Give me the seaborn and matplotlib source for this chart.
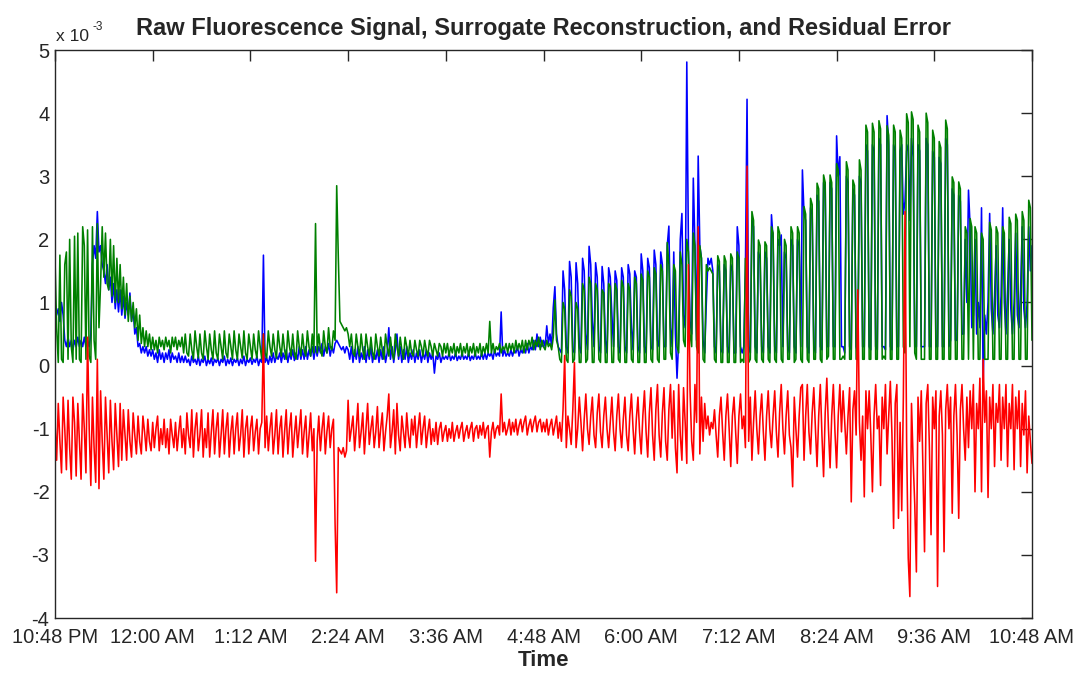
import numpy as np
import pandas as pd
import matplotlib
matplotlib.use('Agg')
import matplotlib.pyplot as plt
import seaborn as sns

# one sample every 1.2 minutes starting 10:48 PM, values in units of 1e-3
step_min = 1.2
tick_labels = ['10:48 PM', '12:00 AM', '1:12 AM', '2:24 AM', '3:36 AM', '4:48 AM',
               '6:00 AM', '7:12 AM', '8:24 AM', '9:36 AM', '10:48 AM']

# raw fluorescence (blue)
raw_signal = [
    1.0, 0.8, 0.9, 0.7, 1.0, 0.8, 0.4, 0.3, 0.45, 0.3, 0.4, 0.25, 0.4, 0.3, 0.45, 0.3, 0.4, 0.3, 0.45, 0.3,
    0.4, 0.3, 0.5, 1.6, 1.9, 1.7, 2.44, 1.8, 1.9, 1.6, 1.5, 1.3, 1.6, 1.2, 1.4, 1.0, 1.3, 0.9, 1.2, 0.85,
    1.2, 0.8, 1.1, 0.75, 1.0, 0.8, 1.15, 0.7, 0.9, 0.5, 0.6, 0.3, 0.35, 0.2, 0.3, 0.2, 0.3, 0.15, 0.25, 0.15,
    0.25, 0.1, 0.2, 0.05, 0.25, 0.1, 0.2, 0.05, 0.2, 0.1, 0.25, 0.05, 0.2, 0.1, 0.15, 0.05, 0.2, 0.05, 0.15, 0.05,
    0.15, 0.05, 0.1, 0.0, 0.15, 0.05, 0.1, 0.02, 0.15, 0.0, 0.1, 0.05, 0.15, 0.0, 0.1, 0.03, 0.12, 0.0, 0.1, 0.05,
    0.12, 0.0, 0.1, 0.05, 0.15, 0.0, 0.1, 0.03, 0.12, 0.0, 0.1, 0.05, 0.12, 0.0, 0.1, 0.03, 0.15, 0.0, 0.1, 0.05,
    0.12, 0.02, 0.1, 0.05, 0.15, 0.0, 0.1, 0.05, 1.75, 0.05, 0.12, 0.02, 0.15, 0.05, 0.2, 0.05, 0.15, 0.1, 0.2, 0.05,
    0.2, 0.1, 0.25, 0.05, 0.2, 0.1, 0.25, 0.08, 0.2, 0.1, 0.3, 0.1, 0.25, 0.1, 0.3, 0.1, 0.25, 0.15, 0.3, 0.1,
    0.3, 0.15, 0.3, 0.2, 0.35, 0.15, 0.3, 0.2, 0.35, 0.15, 0.3, 0.2, 0.35, 0.4, 0.35, 0.3, 0.25, 0.3, 0.2, 0.3,
    0.25, 0.1, 0.3, 0.05, 0.25, 0.1, 0.3, 0.05, 0.2, 0.1, 0.3, 0.05, 0.25, 0.1, 0.3, 0.05, 0.2, 0.1, 0.25, 0.05,
    0.25, 0.1, 0.3, 0.05, 0.2, 0.6, 0.1, 0.3, 0.05, 0.25, 0.5, 0.1, 0.3, 0.05, 0.25, 0.1, 0.3, 0.05, 0.2, 0.1,
    0.25, 0.05, 0.2, 0.1, 0.25, 0.05, 0.2, 0.1, 0.25, 0.05, 0.2, 0.1, 0.2, -0.12, 0.15, 0.1, 0.2, 0.05, 0.15, 0.1,
    0.15, 0.1, 0.2, 0.08, 0.15, 0.1, 0.2, 0.08, 0.15, 0.1, 0.2, 0.1, 0.15, 0.1, 0.2, 0.08, 0.15, 0.1, 0.2, 0.1,
    0.15, 0.1, 0.2, 0.1, 0.2, 0.1, 0.2, 0.15, 0.2, 0.1, 0.25, 0.15, 0.2, 0.15, 0.85, 0.15, 0.25, 0.15, 0.2, 0.15,
    0.25, 0.15, 0.25, 0.2, 0.3, 0.15, 0.25, 0.2, 0.3, 0.2, 0.35, 0.2, 0.3, 0.25, 0.4, 0.25, 0.5, 0.3, 0.45, 0.3,
    0.4, 0.3, 0.63, 0.35, 0.5, 0.3, 0.92, 1.25, 0.5, 0.3, 0.25, 0.2, 1.5, 1.2, 0.3, 0.2, 1.65, 1.4, 0.25, 0.2,
    1.63, 1.3, 0.3, 0.2, 1.7, 1.5, 0.5, 0.25, 1.89, 1.6, 0.7, 0.3, 1.63, 1.4, 0.3, 0.2, 1.57, 1.3, 0.4, 0.2,
    1.55, 1.4, 0.8, 0.3, 1.5, 1.35, 0.3, 0.2, 1.55, 1.4, 0.3, 0.2, 1.6, 1.45, 0.6, 0.25, 1.5, 1.4, 0.3, 0.2,
    1.77, 1.5, 0.3, 0.2, 1.7, 1.55, 0.3, 0.25, 1.83, 1.6, 0.4, 0.3, 1.8, 1.6, 0.3, 0.3, 1.9, 2.21, 0.6, 0.3,
    1.8, 0.5, -0.2, 0.4, 2.0, 2.41, 0.8, 0.6, 4.81, 1.9, 0.7, 0.5, 2.97, 1.9, 0.4, 3.32, 1.9, 1.7, 0.4, 0.2,
    1.0, 1.7, 1.6, 1.7, 1.5, 0.3, 0.2, 1.6, 1.5, 0.25, 0.2, 1.6, 1.5, 0.3, 0.2, 1.6, 1.5, 0.2, 0.2, 2.2,
    1.9, 0.3, 0.2, 0.3, 1.5, 4.22, 0.3, 0.2, 2.3, 2.2, 0.3, 0.2, 1.8, 1.7, 0.3, 0.2, 1.8, 1.7, 0.3, 0.2,
    2.39, 2.0, 0.3, 0.2, 2.0, 1.9, 2.07, 0.3, 1.8, 1.7, 0.3, 0.2, 2.0, 1.9, 0.3, 0.2, 2.0, 1.9, 0.3, 3.1,
    2.4, 2.3, 0.3, 0.2, 2.5, 2.4, 0.3, 0.2, 2.7, 2.6, 0.3, 0.25, 2.9, 2.8, 0.3, 0.3, 2.9, 2.8, 0.3, 0.3,
    3.64, 3.0, 3.31, 0.3, 0.3, 0.2, 3.0, 2.9, 0.3, 0.25, 2.8, 2.7, 0.3, 0.2, 3.0, 2.9, 0.3, 0.3, 3.5, 3.4,
    0.3, 0.25, 3.5, 3.4, 0.3, 0.25, 3.6, 3.5, 0.3, 0.3, 0.25, 3.96, 3.5, 0.3, 0.25, 3.5, 3.4, 0.3, 0.3, 3.4,
    3.5, 2.4, 2.6, 3.4, 3.5, 2.3, 3.6, 3.3, 0.3, 0.3, 3.5, 3.4, 0.3, 0.3, 0.3, 3.6, 3.5, 0.3, 0.3, 3.4,
    3.3, 0.3, 0.3, 3.3, 3.2, 0.3, 0.3, 3.6, 3.5, 0.3, 0.4, 2.8, 2.7, 0.4, 0.4, 2.7, 2.6, 0.5, 0.5, 2.0,
    1.0, 2.78, 2.2, 0.6, 0.8, 2.0, 0.5, 1.0, 0.6, 2.5, -0.27, 0.8, 0.5, 1.0, 2.41, 0.9, 0.5, 1.1, 1.9, 0.8,
    0.6, 1.1, 2.5, 1.0, 0.5, 1.2, 2.0, 0.9, 0.5, 1.0, 2.1, 0.8, 0.6, 1.2, 2.2, 0.9, 0.6, 1.0, 2.2, 1.5,
    1.9,
]

# surrogate reconstruction (green)
surrogate = [
    1.7, 0.6, 0.05, 1.75, 0.1, 0.05, 1.6, 1.8, 0.1, 2.0, 0.3, 0.05, 2.05, 0.1, 2.1, 0.1, 0.05, 2.2, 1.9, 0.1,
    2.15, 0.15, 0.05, 2.2, 0.4, 0.1, 2.25, 0.6, 1.3, 2.2, 1.4, 2.1, 1.3, 1.2, 2.0, 1.1, 1.9, 1.0, 1.7, 1.0,
    1.6, 0.9, 1.4, 0.8, 1.3, 0.7, 1.1, 0.7, 1.0, 0.6, 0.9, 0.4, 0.8, 0.35, 0.6, 0.3, 0.55, 0.3, 0.5, 0.25,
    0.45, 0.25, 0.4, 0.2, 0.45, 0.3, 0.4, 0.25, 0.45, 0.3, 0.4, 0.2, 0.45, 0.3, 0.45, 0.25, 0.4, 0.3, 0.45, 0.2,
    0.5, 0.2, 0.15, 0.5, 0.25, 0.1, 0.55, 0.3, 0.12, 0.5, 0.2, 0.1, 0.55, 0.3, 0.1, 0.5, 0.25, 0.1, 0.55, 0.2,
    0.1, 0.5, 0.3, 0.1, 0.55, 0.2, 0.12, 0.5, 0.3, 0.1, 0.55, 0.25, 0.1, 0.5, 0.3, 0.12, 0.55, 0.2, 0.1, 0.5,
    0.3, 0.1, 0.5, 0.25, 0.12, 0.55, 0.3, 0.1, 0.5, 0.2, 0.12, 0.55, 0.3, 0.15, 0.5, 0.25, 0.12, 0.55, 0.3, 0.15,
    0.5, 0.25, 0.1, 0.55, 0.3, 0.15, 0.5, 0.2, 0.1, 0.55, 0.3, 0.15, 0.5, 0.25, 0.15, 0.55, 0.3, 0.15, 0.5, 0.2,
    2.25, 0.2, 0.5, 0.25, 0.15, 0.55, 0.3, 0.2, 0.6, 0.3, 0.25, 0.55, 0.4, 2.85, 1.7, 0.7, 0.65, 0.6, 0.55, 0.6,
    0.5, 0.3, 0.5, 0.2, 0.15, 0.5, 0.3, 0.15, 0.5, 0.25, 0.1, 0.5, 0.3, 0.15, 0.45, 0.2, 0.1, 0.5, 0.3, 0.15,
    0.45, 0.25, 0.1, 0.5, 0.3, 0.15, 0.45, 0.2, 0.1, 0.5, 0.3, 0.15, 0.45, 0.25, 0.1, 0.45, 0.3, 0.15, 0.4, 0.2,
    0.15, 0.4, 0.25, 0.15, 0.4, 0.3, 0.15, 0.4, 0.25, 0.15, 0.4, 0.3, 0.15, 0.35, 0.25, 0.15, 0.35, 0.3, 0.15, 0.35,
    0.2, 0.35, 0.15, 0.3, 0.2, 0.35, 0.15, 0.3, 0.2, 0.35, 0.15, 0.3, 0.2, 0.35, 0.15, 0.3, 0.2, 0.35, 0.15, 0.3,
    0.2, 0.35, 0.15, 0.3, 0.2, 0.35, 0.2, 0.7, 0.2, 0.35, 0.2, 0.3, 0.25, 0.35, 0.2, 0.3, 0.25, 0.35, 0.2, 0.35,
    0.25, 0.35, 0.2, 0.4, 0.25, 0.35, 0.25, 0.4, 0.2, 0.4, 0.25, 0.4, 0.3, 0.45, 0.25, 0.4, 0.3, 0.45, 0.25, 0.4,
    0.3, 0.25, 0.4, 0.3, 0.35, 0.25, 0.45, 1.04, 0.4, 0.3, 0.1, 0.05, 1.0, 0.9, 0.1, 0.05, 1.2, 1.1, 0.05, 0.1,
    1.0, 0.9, 0.05, 0.05, 1.3, 1.2, 0.05, 0.1, 1.4, 1.3, 0.05, 0.05, 1.3, 1.2, 0.1, 0.05, 1.2, 1.15, 0.05, 0.05,
    1.3, 1.25, 0.05, 0.05, 1.3, 1.2, 0.1, 0.05, 1.35, 1.25, 0.05, 0.05, 1.3, 1.2, 0.1, 0.05, 1.4, 1.3, 0.05, 0.05,
    1.45, 1.35, 0.05, 0.05, 1.5, 1.4, 0.1, 0.05, 1.55, 1.45, 0.1, 0.05, 1.6, 1.5, 0.1, 0.1, 1.95, 1.6, 0.2, 0.1,
    1.6, 1.5, 0.3, 0.2, 1.8, 1.6, 0.4, 0.3, 2.0, 1.8, 0.5, 0.3, 2.1, 1.9, 0.3, 0.2, 1.9, 1.7, 0.1, 0.05,
    1.6, 1.5, 1.55, 1.5, 1.45, 0.1, 0.05, 1.74, 1.65, 0.05, 0.05, 1.74, 1.65, 0.05, 0.05, 1.77, 1.7, 0.05, 0.05, 1.8,
    1.7, 0.05, 0.1, 0.05, 1.7, 1.6, 0.05, 0.1, 2.44, 2.3, 0.1, 0.05, 1.99, 1.9, 0.1, 0.05, 1.96, 1.9, 0.1, 0.05,
    2.2, 2.1, 0.1, 0.05, 2.2, 2.1, 0.1, 0.05, 2.0, 1.9, 0.1, 0.1, 2.2, 2.1, 0.05, 0.1, 2.2, 2.1, 0.1, 0.05,
    2.52, 2.4, 0.1, 0.05, 2.65, 2.55, 0.1, 0.1, 2.89, 2.8, 0.1, 0.05, 3.02, 2.9, 0.1, 0.15, 3.02, 2.9, 0.1, 0.1,
    3.2, 3.1, 0.1, 0.1, 0.15, 0.1, 3.23, 3.1, 0.1, 0.1, 2.94, 2.85, 0.1, 0.1, 3.26, 3.1, 0.1, 0.1, 3.81, 3.7,
    0.1, 0.1, 3.84, 3.7, 0.1, 0.1, 3.88, 3.75, 0.1, 0.15, 0.1, 3.8, 3.65, 0.1, 0.1, 3.81, 3.7, 0.1, 0.1, 3.73,
    3.6, 0.3, 0.2, 3.99, 3.85, 0.3, 4.02, 3.9, 0.2, 0.1, 3.81, 3.7, 0.1, 0.1, 0.1, 4.0, 3.85, 0.1, 0.1, 3.73,
    3.6, 0.1, 0.1, 3.55, 3.45, 0.1, 0.1, 3.89, 3.75, 0.1, 0.1, 2.99, 2.9, 0.1, 0.1, 2.91, 2.8, 0.1, 0.1, 2.2,
    2.1, 0.1, 2.33, 2.2, 0.1, 2.2, 2.1, 0.1, 0.1, 2.1, 2.0, 0.1, 0.1, 0.1, 2.27, 2.15, 0.1, 0.1, 2.2, 2.1,
    0.1, 0.1, 2.2, 2.1, 0.1, 0.1, 2.35, 2.25, 0.1, 0.1, 2.4, 2.3, 0.1, 0.1, 2.44, 2.3, 0.1, 0.1, 2.62, 2.5,
    0.4,
]

# residual error (red)
residual = [
    -0.9, -1.5, -0.6, -1.2, -1.7, -0.5, -1.0, -1.65, -0.55, -1.3, -1.8, -0.5, -0.9, -1.75, -0.6, -1.2, -1.8, -0.45, -1.0, -1.7,
    0.45, -1.0, -1.9, -0.5, -1.3, -1.85, 0.1, -1.95, -0.4, -1.2, -1.8, -0.5, -1.1, -1.7, -0.55, -1.2, -1.65, -0.6, -1.1, -1.6,
    -0.6, -1.5, -0.7, -1.1, -1.5, -0.7, -1.2, -1.45, -0.75, -1.1, -1.4, -0.8, -1.2, -1.4, -0.8, -1.05, -1.35, -0.85, -1.2, -1.35,
    -0.9, -1.3, -1.0, -0.8, -1.35, -1.0, -1.25, -0.85, -1.3, -1.0, -1.4, -0.85, -1.1, -1.3, -0.9, -1.35, -1.05, -0.8, -1.3, -1.0,
    -1.4, -0.75, -1.1, -1.3, -0.7, -1.45, -1.0, -0.75, -1.35, -1.1, -0.7, -1.45, -1.0, -1.3, -0.75, -1.45, -1.05, -0.7, -1.4, -1.0,
    -0.75, -1.45, -1.1, -0.7, -1.4, -1.0, -0.75, -1.45, -1.05, -0.8, -1.4, -1.0, -0.75, -1.35, -1.1, -0.7, -1.45, -1.0, -0.8, -1.4,
    -1.0, -0.8, -1.35, -1.05, -0.85, -1.4, -1.0, -0.9, 0.5, -1.3, -0.8, -1.35, -1.0, -0.75, -1.4, -1.1, -0.7, -1.4, -1.0, -0.8,
    -1.45, -1.05, -0.7, -1.4, -1.0, -0.75, -1.45, -1.1, -0.8, -1.3, -1.0, -0.7, -1.4, -1.05, -0.8, -1.45, -1.1, -0.75, -1.35, -1.0,
    -3.1, -1.2, -0.8, -1.35, -1.0, -0.75, -1.4, -1.05, -0.8, -1.3, -1.0, -0.85, -2.5, -3.6, -1.3, -1.35, -1.4, -1.3, -1.45, -1.35,
    -0.55, -1.2, -1.0, -0.8, -1.35, -1.0, -0.6, -1.3, -1.05, -0.75, -1.4, -1.0, -0.6, -1.25, -1.0, -0.8, -1.3, -1.05, -0.65, -1.3,
    -1.0, -0.75, -1.35, -1.05, -0.8, -0.45, -1.3, -1.05, -0.7, -1.4, -0.6, -1.1, -1.35, -0.8, -1.05, -1.3, -0.75, -1.1, -1.3, -0.85,
    -1.1, -0.8, -1.3, -1.0, -0.75, -1.25, -1.0, -0.8, -1.3, -1.05, -0.85, -1.25, -1.0, -1.2, -0.9, -1.25, -1.0, -0.9, -1.2, -1.05,
    -0.95, -1.2, -1.0, -1.15, -0.9, -1.2, -1.05, -0.95, -1.15, -1.0, -0.9, -1.2, -1.05, -0.95, -1.15, -1.0, -0.9, -1.2, -1.0, -0.95,
    -1.15, -0.95, -1.1, -0.9, -1.15, -1.0, -0.95, -1.45, -1.05, -0.9, -1.15, -1.0, -0.95, -1.1, -0.45, -1.05, -0.9, -1.1, -1.0, -0.85,
    -1.1, -0.9, -1.05, -0.85, -1.1, -0.95, -0.85, -1.05, -0.9, -0.8, -1.1, -0.95, -0.85, -1.05, -0.9, -0.8, -1.05, -0.9, -0.85, -1.05,
    -0.9, -1.05, -0.85, -1.1, -0.95, -0.85, -1.1, -0.95, -0.8, -1.15, -0.9, -1.2, -0.7, 0.16, -1.3, -0.8, -1.0, -1.25, -0.7, 0.05,
    -1.3, -1.0, -0.5, -0.9, -1.35, -0.85, -0.45, -1.0, -1.25, -0.8, -0.5, -1.1, -1.3, -0.75, -0.45, -1.05, -1.3, -0.8, -0.5, -1.0,
    -1.3, -0.9, -0.5, -1.05, -1.35, -0.8, -0.45, -1.0, -1.3, -0.85, -0.5, -1.1, -1.35, -0.8, -0.45, -1.0, -1.4, -0.85, -0.5, -1.05,
    -1.4, -0.8, -0.4, -1.05, -1.45, -0.75, -0.35, -1.1, -1.5, -0.7, -0.3, -1.1, -1.45, -0.75, -0.35, -1.2, -1.5, -0.7, -0.3, -1.15,
    -0.4, -1.3, -1.7, -0.3, -1.1, -1.5, -0.35, -0.9, -1.55, 1.6, -0.4, -1.2, -1.5, -0.3, -0.9, 2.2, -1.4, -0.5, -1.2, -0.6,
    -1.0, -0.8, -1.1, -0.9, -1.0, -0.7, -1.1, -1.45, -0.8, -0.5, -1.05, -1.5, -0.8, -0.45, -1.0, -1.6, -0.8, -0.5, -1.05, -1.55,
    -0.8, -0.45, -1.0, -0.8, -1.3, 3.16, -1.2, -0.5, -1.5, -0.9, -0.4, -1.0, -1.4, -0.8, -0.45, -1.05, -1.5, -0.8, -0.4, -1.0,
    -1.3, -0.8, -0.4, -1.05, -1.45, -0.75, -0.3, -1.0, -1.4, -0.8, -0.4, -1.1, -1.3, -1.92, -0.5, -1.0, -1.45, -0.8, -0.35, -0.3,
    -1.5, -0.8, -0.3, -1.05, -1.4, -0.75, -0.35, -1.0, -1.6, -0.8, -0.3, -1.1, -1.76, -0.75, -0.2, -1.0, -1.62, -0.8, -0.3, -1.05,
    -1.62, -0.8, -0.3, -1.05, -0.4, -0.9, -1.4, -0.8, -0.35, -2.16, -0.7, -0.4, -1.1, 1.2, -0.9, -1.5, -0.8, -2.08, -0.4, -1.0,
    -0.4, -1.1, -2.0, -0.8, -0.3, -1.0, -0.8, -1.9, -0.5, -1.0, -0.3, -1.4, -0.8, -0.25, -1.1, -2.58, -0.6, -0.3, -2.42, -0.9,
    -2.3, -0.5, 2.44, -1.2, -3.05, -3.66, -0.6, -1.5, -2.2, -3.27, -0.5, -1.2, -0.4, -1.6, -2.95, -0.6, -0.3, -1.3, -2.68, -0.5,
    -1.0, -0.4, -3.5, -0.8, -0.4, -1.1, -2.95, -0.7, -0.3, -1.0, -0.5, -2.34, -0.8, -0.3, -1.1, -2.42, -0.7, -0.3, -1.0, -1.5,
    -0.5, -1.3, -0.4, -1.0, -0.3, -2.0, -0.6, -1.0, -0.2, -2.0, 0.1, -0.9, -0.4, -2.09, -0.5, -1.0, -0.3, -1.6, -0.6, -0.9,
    -0.3, -1.5, -0.5, -1.0, -0.3, -1.6, -0.6, -1.0, -0.3, -1.65, -0.5, -1.0, -0.4, -1.6, -0.6, -1.1, -0.4, -1.7, -0.8, -1.2,
    -1.55,
]

series_names = ['raw', 'surrogate', 'residual']
series_colors = ['#0000ff', '#008000', '#ff0000']

assert len(raw_signal) == len(surrogate) == len(residual) == 601

minutes = np.arange(len(raw_signal)) * step_min
frames = []
for name, vals in zip(series_names, [raw_signal, surrogate, residual]):
    frames.append(pd.DataFrame({'minute': minutes, 'value': vals, 'series': name}))
df = pd.concat(frames, ignore_index=True)

sns.set_style('white')
plt.rcParams['font.family'] = ['Liberation Sans', 'DejaVu Sans']
plt.rcParams['axes.unicode_minus'] = False

fig = plt.figure(figsize=(10.87, 6.75), dpi=100)
ax = fig.add_axes([0.0506, 0.0844, 0.8988, 0.8415])

sns.lineplot(data=df, x='minute', y='value', hue='series', hue_order=series_names,
             palette=series_colors, estimator=None, sort=False, linewidth=1.15,
             legend=False, ax=ax)

ax.set_xlim(0, 720)
ax.set_ylim(-4, 5)
ax.set_xticks(np.arange(len(tick_labels)) * 72)
ax.set_xticklabels(tick_labels)
ax.set_yticks(range(-4, 6))
ax.tick_params(direction='in', top=True, right=True, length=8, width=1,
               labelsize=14.5, colors='#262626')
ax.tick_params(axis='x', pad=7)
ax.tick_params(axis='y', pad=4)
for sp in ax.spines.values():
    sp.set_visible(True)
    sp.set_color('#262626')
    sp.set_linewidth(1.0)

ax.set_xlabel('Time', fontsize=16, fontweight='bold', labelpad=2)
ax.set_ylabel('')
ax.set_title('Raw Fluorescence Signal, Surrogate Reconstruction, and Residual Error',
             fontsize=17, fontweight='bold', pad=11)
# exponent label in the top-left corner
ax.text(0.001, 1.016, 'x 10', transform=ax.transAxes, fontsize=12.5,
        ha='left', va='baseline', color='#262626')
ax.text(0.0385, 1.036, '-3', transform=ax.transAxes, fontsize=8.5,
        ha='left', va='baseline', color='#262626')

fig.savefig('out.png', dpi=100, facecolor='white')
